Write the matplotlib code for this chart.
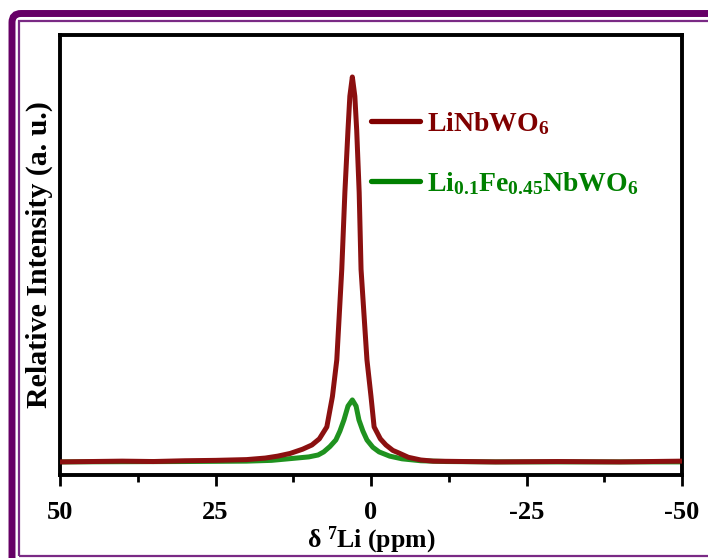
import numpy as np
import matplotlib
matplotlib.use('Agg')
import matplotlib.pyplot as plt
from matplotlib.patches import FancyBboxPatch, Rectangle
from matplotlib.transforms import IdentityTransform

plt.rcParams['font.family'] = 'Liberation Serif'
plt.rcParams['font.weight'] = 'bold'
plt.rcParams['mathtext.fontset'] = 'custom'
plt.rcParams['mathtext.rm'] = 'Liberation Serif:bold'
plt.rcParams['mathtext.bf'] = 'Liberation Serif:bold'
plt.rcParams['mathtext.it'] = 'Liberation Serif:bold'

#---------------
# data (ppm, relative intensity)
ppm_red = [50, 45, 40, 35, 30, 25, 20, 17, 15, 13, 11, 9.5, 8.3, 7.1, 6.2, 5.5, 4.7, 4.2,
           3.7, 3.4, 3.0, 2.6, 2.3, 1.9, 1.6, 0.65, 0.0, -0.5, -1.5, -2.4, -3.5, -4.5,
           -6, -8, -10, -15, -20, -30, -40, -50]
int_red = [0.0, 0.001, 0.002, 0.001, 0.003, 0.004, 0.006, 0.010, 0.015, 0.022, 0.033, 0.044,
           0.060, 0.091, 0.17, 0.265, 0.50, 0.70, 0.862, 0.95, 1.0, 0.95, 0.862, 0.70, 0.50,
           0.265, 0.17, 0.091, 0.060, 0.044, 0.030, 0.023, 0.012, 0.005, 0.002, 0.001, 0.0,
           0.001, 0.0, 0.002]

ppm_green = [50, 30, 20, 16, 14, 12, 10, 8.5, 7.6, 6.6, 5.65, 5.0, 4.35, 3.7, 3.0, 2.4,
             1.94, 1.3, 0.65, -0.3, -1.3, -3, -5, -8, -12, -20, -50]
int_green = [0.0, 0.001, 0.002, 0.004, 0.007, 0.010, 0.013, 0.018, 0.026, 0.040, 0.057,
             0.080, 0.109, 0.145, 0.161, 0.145, 0.109, 0.080, 0.057, 0.038, 0.026, 0.015,
             0.008, 0.003, 0.001, 0.0, 0.0]

lab_red = r'LiNbWO$_{6}$'
lab_green = r'Li$_{0.1}$Fe$_{0.45}$NbWO$_{6}$'
xticks = [50, 25, 0, -25, -50]
xticklabels = ['50', '25', '0', '-25', '-50']

#---------------
fig = plt.figure(figsize=(7.08, 5.58), dpi=100)
W, H = 708, 558
ax = fig.add_axes([60/W, 1-475/H, 622/W, 440/H])

ax.plot(ppm_red, int_red, color='#8b1010', lw=3.6, solid_capstyle='round', label=lab_red, zorder=3)
ax.plot(ppm_green, int_green, color='#1f921f', lw=3.6, solid_capstyle='round', label=lab_green, zorder=2)

ax.set_xlim(50, -50)
ax.set_ylim(-0.034, 1.109)
ax.set_xticks(xticks)
ax.set_xticklabels(xticklabels)
ax.set_xticks(np.arange(-37.5, 50, 25), minor=True)
ax.set_yticks([])
ax.tick_params(axis='x', which='major', direction='out', length=8, width=2, labelsize=19, pad=11)
ax.tick_params(axis='x', which='minor', direction='out', length=5, width=2)
for sp in ax.spines.values():
  sp.set_linewidth(2.8)

ax.set_xlabel(r'δ $^{7}$Li (ppm)', fontsize=18.5, fontweight='bold', labelpad=0)
ax.set_ylabel('Relative Intensity (a. u.)', fontsize=21.5, fontweight='bold', labelpad=5)

leg = ax.legend(loc='upper left', bbox_to_anchor=(0.5, 0.83), frameon=False,
                fontsize=20, handlelength=1.75, handletextpad=0.25, labelspacing=1.2,
                borderpad=0, borderaxespad=0)
leg.get_lines()[0].set_color('#800000')
leg.get_lines()[1].set_color('#008000')
leg.get_texts()[0].set_color('#800000')
leg.get_texts()[1].set_color('#008000')
for ln in leg.get_lines():
  ln.set_linewidth(3.8)

#---------------
# purple frame around the picture
outer = FancyBboxPatch((12, -60), 800, H - 13.5 + 60, boxstyle='round,pad=0,rounding_size=9',
                       transform=IdentityTransform(), fill=False, ec='#660066', lw=5)
inner = Rectangle((19, 2), 800, H - 21 - 2, transform=IdentityTransform(), fill=False,
                  ec='#7a2a85', lw=1.6)
fig.add_artist(outer)
fig.add_artist(inner)

plt.savefig('out.png', dpi=100)
